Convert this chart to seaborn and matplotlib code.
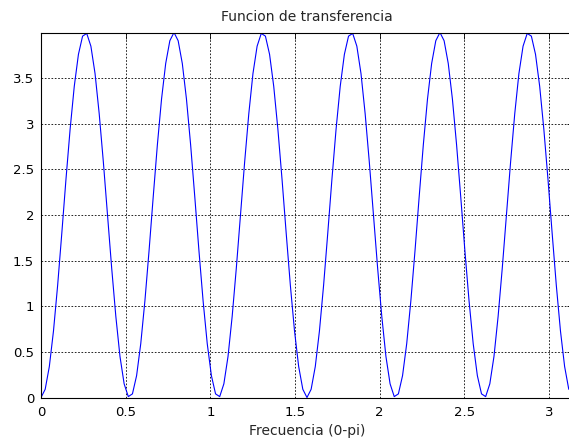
import numpy as np
import pandas as pd
import matplotlib
matplotlib.use("Agg")
import matplotlib.pyplot as plt
import seaborn as sns

# Magnitude response |H(w)|^2 sampled on 128 points of [0, pi)
n_points = 128
magnitude = [
    0.00, 0.09, 0.34, 0.73, 1.23, 1.80, 2.39, 2.94, 3.41, 3.76, 3.96, 3.99,
    3.85, 3.55, 3.11, 2.58, 2.00, 1.42, 0.89, 0.45, 0.15, 0.01, 0.04, 0.24,
    0.59, 1.06, 1.61, 2.20, 2.77, 3.27, 3.66, 3.91, 4.00, 3.91, 3.66, 3.27,
    2.77, 2.20, 1.61, 1.06, 0.59, 0.24, 0.04, 0.01, 0.15, 0.45, 0.89, 1.42,
    2.00, 2.58, 3.11, 3.55, 3.85, 3.99, 3.96, 3.76, 3.41, 2.94, 2.39, 1.80,
    1.23, 0.73, 0.34, 0.09,
    0.00, 0.09, 0.34, 0.73, 1.23, 1.80, 2.39, 2.94, 3.41, 3.76, 3.96, 3.99,
    3.85, 3.55, 3.11, 2.58, 2.00, 1.42, 0.89, 0.45, 0.15, 0.01, 0.04, 0.24,
    0.59, 1.06, 1.61, 2.20, 2.77, 3.27, 3.66, 3.91, 4.00, 3.91, 3.66, 3.27,
    2.77, 2.20, 1.61, 1.06, 0.59, 0.24, 0.04, 0.01, 0.15, 0.45, 0.89, 1.42,
    2.00, 2.58, 3.11, 3.55, 3.85, 3.99, 3.96, 3.76, 3.41, 2.94, 2.39, 1.80,
    1.23, 0.73, 0.34, 0.09,
]
frequency = np.arange(n_points) * np.pi / n_points

x_ticks = [0, 0.5, 1, 1.5, 2, 2.5, 3]
x_tick_labels = ["0", "0.5", "1", "1.5", "2", "2.5", "3"]
y_ticks = [0, 0.5, 1, 1.5, 2, 2.5, 3, 3.5]
y_tick_labels = ["0", "0.5", "1", "1.5", "2", "2.5", "3", "3.5"]

title_text = "Funcion de transferencia"
x_label_text = "Frecuencia (0-pi)"

df = pd.DataFrame({"w": frequency, "H": magnitude})

sns.set_style("white")
plt.rcParams["font.family"] = ["DejaVu Sans"]

fig = plt.figure(figsize=(5.69, 4.41), dpi=100)
ax = fig.add_axes([0.0721, 0.0986, 0.9348, 0.8277])

sns.lineplot(data=df, x="w", y="H", ax=ax, color="#0000ff", linewidth=0.8)

ax.set_xlim(0, np.pi)
ax.set_ylim(0, 4)
ax.set_xticks(x_ticks)
ax.set_xticklabels(x_tick_labels)
ax.set_yticks(y_ticks)
ax.set_yticklabels(y_tick_labels)

ax.grid(True, color="black", linestyle=(0, (2.0, 2.0)), linewidth=0.6)
ax.tick_params(direction="in", length=4, width=0.6, labelsize=9.5,
               top=True, right=True, colors="black")
ax.tick_params(axis="x", pad=6)
ax.tick_params(axis="y", pad=5)
for s in ax.spines.values():
    s.set_color("black")
    s.set_linewidth(0.8)

ax.set_title(title_text, fontsize=10, pad=8)
ax.set_xlabel(x_label_text, fontsize=10, labelpad=4)
ax.set_ylabel("")

fig.savefig("out.png", dpi=100, facecolor="white")
